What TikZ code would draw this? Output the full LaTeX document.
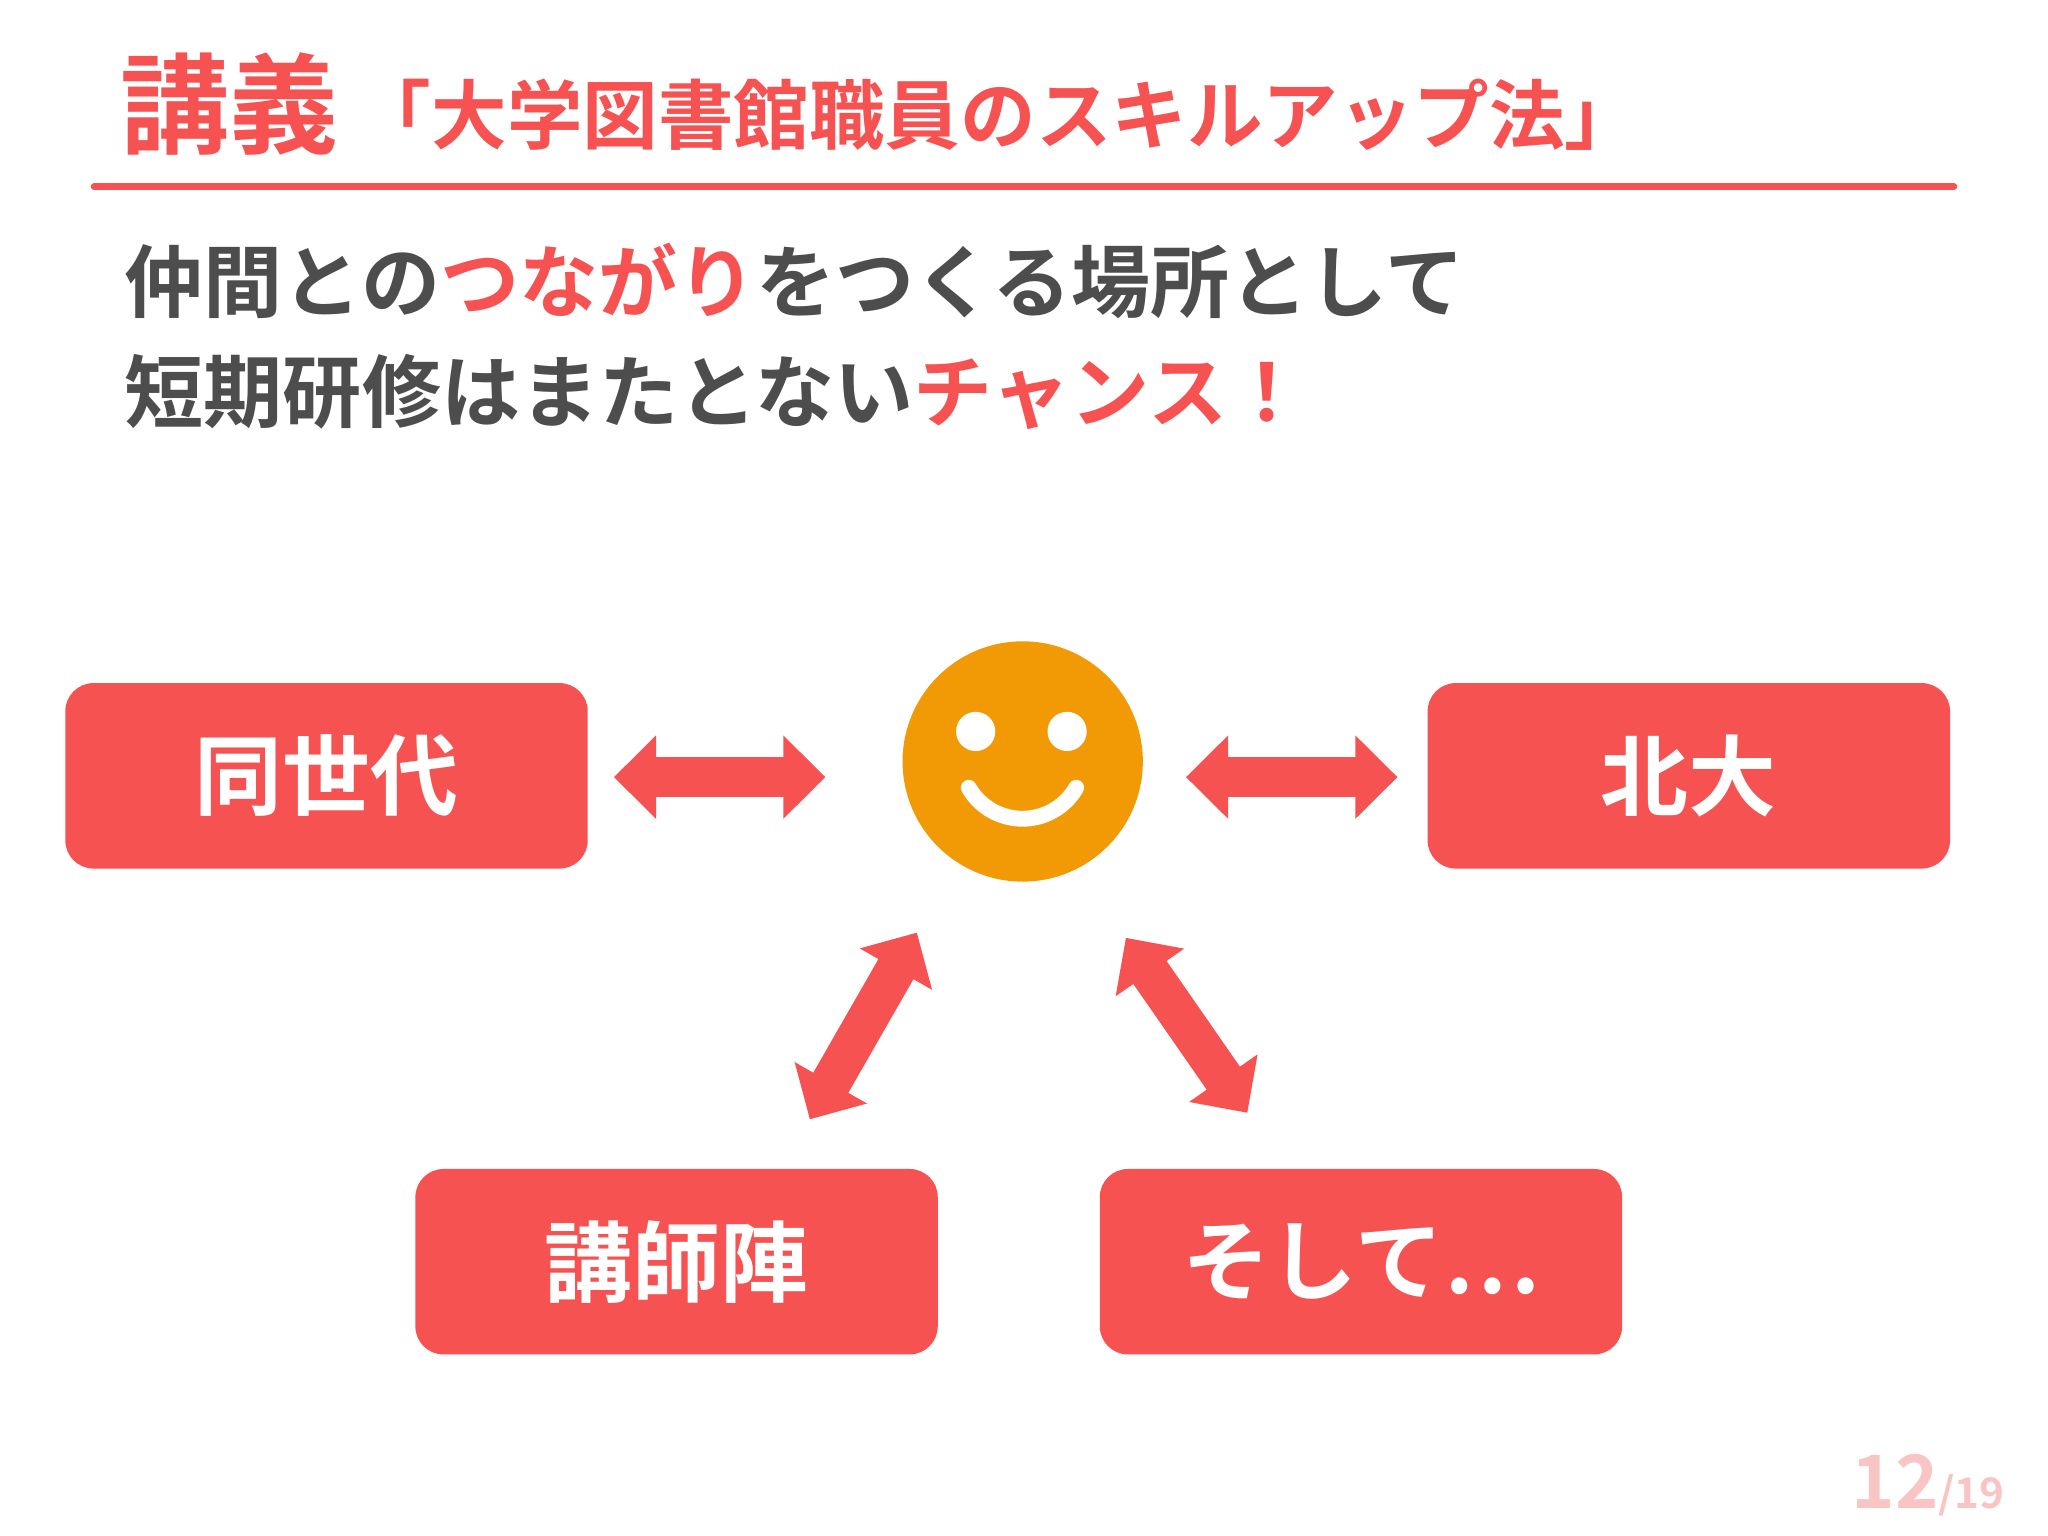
\documentclass[tikz,border=0pt]{standalone}
\usepackage{fontspec}
\setmainfont{Noto Sans CJK JP Bold}
\usetikzlibrary{arrows.meta}
\definecolor{myred}{HTML}{F75252}
\definecolor{mygray}{HTML}{4D4D4D}
\definecolor{myorange}{HTML}{F29A06}
\definecolor{mypink}{HTML}{F9C4C4}
\tikzset{
  box/.style={fill=myred,rounded corners=8pt,minimum width=400*0.3716pt,minimum height=142*0.3716pt,text=white,font=\fontsize{25}{25}\selectfont,inner sep=0pt},
  fat/.style={myred,line width=11.5pt,{Triangle[width=23pt,length=12pt]}-{Triangle[width=23pt,length=12pt]}}
}
\begin{document}
\begin{tikzpicture}[x=0.01306cm,y=-0.01306cm]
\useasboundingbox (0,0) rectangle (1568,1176);
\node[anchor=west,text=myred,font=\fontsize{31}{31}\selectfont,inner sep=0pt] (t1) at (92,80) {講義};
\node[anchor=west,text=myred,font=\fontsize{21.5}{21.5}\selectfont,inner sep=0pt] (t2) at (272,88) {「大学図書館職員のスキルアップ法」};
\draw[myred,line width=1.9pt,line cap=round] (72,143) coordinate (l1) -- (1496,143) coordinate (l2);
\node[anchor=west,text=mygray,font=\fontsize{22.5}{22.5}\selectfont,inner sep=0pt] (b1) at (95,215) {仲間との\textcolor{myred}{つながり}をつくる場所として};
\node[anchor=west,text=mygray,font=\fontsize{22.5}{22.5}\selectfont,inner sep=0pt] (b2) at (95,300) {短期研修はまたとない\textcolor{myred}{チャンス！}};
\node[box] (a) at (250,594) {同世代};
\node[box] (b) at (1293,594) {北大};
\node[box] (c) at (518,966) {講師陣};
\node[box] (d) at (1042,966) {そして…};
\node[circle,fill=myorange,minimum size=184*0.3716pt,inner sep=0pt] (s) at (783,583) {};
\fill[white] (747,560) circle[radius=15];
\fill[white] (817,560) circle[radius=15];
\draw[white,line width=4.5pt,line cap=round] (741.7,603.1) arc[start angle=150,end angle=30,radius=47.5];
\coordinate (p1) at (470,595); \coordinate (p2) at (632,595);
\coordinate (p3) at (908,595); \coordinate (p4) at (1070,595);
\coordinate (p5) at (702,714); \coordinate (p6) at (620,857);
\coordinate (p7) at (862,718); \coordinate (p8) at (955,852);
\draw[fat] (p1) -- (p2);
\draw[fat] (p3) -- (p4);
\draw[fat] (p5) -- (p6);
\draw[fat] (p7) -- (p8);
\node[anchor=base west,text=mypink,inner sep=0pt] (pg) at (1417,1155) {\fontsize{21}{21}\selectfont 12\fontsize{12}{12}\selectfont/19};
\end{tikzpicture}
\end{document}
